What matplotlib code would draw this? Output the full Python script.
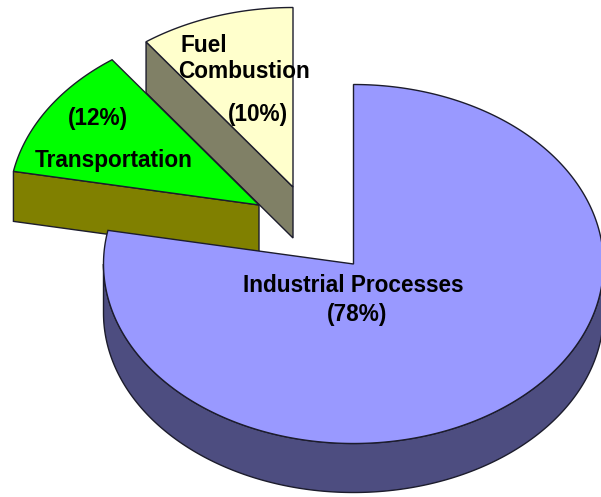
import numpy as np
import matplotlib
matplotlib.use("Agg")
import matplotlib.pyplot as plt
from matplotlib.patches import Polygon

categories = ["Industrial Processes", "Transportation", "Fuel Combustion"]
shares = [78, 12, 10]
top_colors = ["#9999FF", "#00FF00", "#FFFFCC"]
wall_colors = ["#4D4D80", "#808000", "#808066"]
apexes = [(353.5, 264), (259, 205), (293, 187)]
depths = [49, 50, 51]
z_orders = [9, 6, 3]
RX, RY = 250, 179.5
EDGE = "#1c1c2c"
LW = 1.0

fig = plt.figure(figsize=(6.01, 4.97), dpi=100)
ax = fig.add_axes([0, 0, 1, 1])
ax.set_xlim(0, 601)
ax.set_ylim(497, 0)
ax.axis("off")


def rim(apex, a0, a1):
    t = np.radians(np.linspace(a0, a1, max(int(abs(a1 - a0) * 2), 2)))
    return np.column_stack([apex[0] + RX * np.sin(t), apex[1] - RY * np.cos(t)])


def wedge(i, a0, a1):
    apex, d, zo = apexes[i], depths[i], z_orders[i]
    # radial cut face at the start of the slice
    if i > 0:
        p = rim(apex, a0, a0 + 0.01)[0]
        quad = [apex, p, (p[0], p[1] + d), (apex[0], apex[1] + d)]
        ax.add_patch(Polygon(quad, closed=True, fc=wall_colors[i], ec=EDGE, lw=LW, zorder=zo))
    # outer wall, visible only along the front half
    w0, w1 = max(a0, 90), min(a1, 270)
    if w1 > w0:
        arc = rim(apex, w0, w1)
        low = arc[::-1] + np.array([0, d])
        ax.add_patch(Polygon(np.vstack([arc, low]), closed=True, fc=wall_colors[i],
                             ec=EDGE, lw=LW, zorder=zo))
    # top face
    ax.add_patch(Polygon(np.vstack([[apex], rim(apex, a0, a1)]), closed=True,
                         fc=top_colors[i], ec=EDGE, lw=LW, zorder=zo + 1))


angles = np.concatenate([[0], np.cumsum(shares) * 3.6])
for i in (2, 1, 0):
    wedge(i, angles[i], angles[i + 1])

font = dict(family="Liberation Sans", fontweight="bold", color="black", zorder=20,
            va="center", fontsize=16.3)
ax.text(353, 285.5, categories[0], ha="center", **font)
ax.text(357, 314, f"({shares[0]}%)", ha="center", **font)
ax.text(113.5, 160.5, categories[1], ha="center", **font)
ax.text(98, 119, f"({shares[1]}%)", ha="center", **font)
fuel, combustion = categories[2].split()
ax.text(181, 46, fuel, ha="left", **font)
ax.text(178.5, 71.5, combustion, ha="left", **font)
ax.text(258, 114, f"({shares[2]}%)", ha="center", **font)

fig.savefig("out.png", dpi=100)
